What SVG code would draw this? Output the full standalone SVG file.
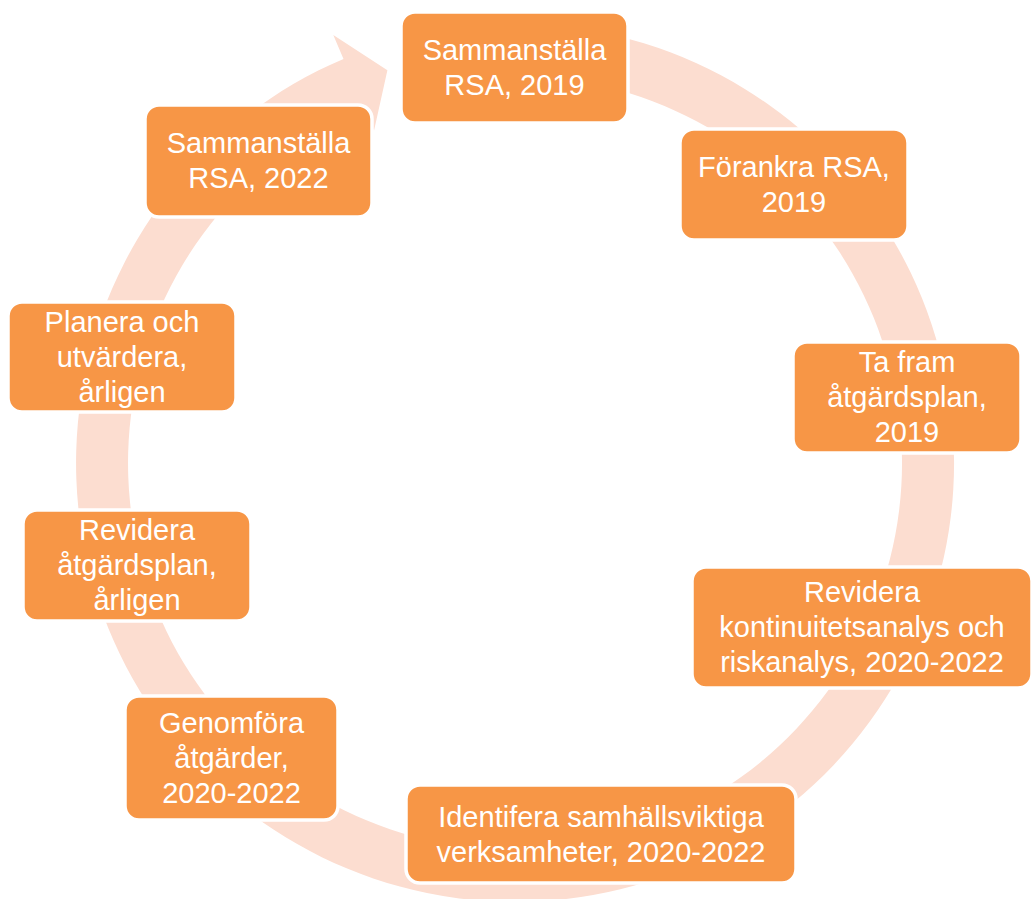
<svg xmlns="http://www.w3.org/2000/svg" width="1031" height="899" viewBox="0 0 1031 899">
<style>
.box{fill:#F79646;stroke:#FFFFFF;stroke-width:3.5}
.t{font-family:"Liberation Sans",Arial,sans-serif;font-size:29px;fill:#FFFFFF;text-anchor:middle}
.ring{fill:#FCDDD0;stroke:none}
</style>
<rect width="1031" height="899" fill="#FFFFFF"/>
<g id="connectors">
<path class="ring" d="M423.7,33.6 A439,439 0 1 1 343.5,58.9 L333.3,35.0 L387.4,70.2 L374.0,130.7 L363.8,106.8 A387,387 0 1 0 434.5,84.5 Z"/>
</g>
<g id="node1">
<rect class="box" x="401" y="12" width="227" height="111" rx="14"/>
<text class="t" x="514.5" y="60">Sammanställa</text>
<text class="t" x="514.5" y="95">RSA, 2019</text>
</g>
<g id="node2">
<rect class="box" x="680" y="129" width="228" height="111" rx="14"/>
<text class="t" x="794" y="177">Förankra RSA,</text>
<text class="t" x="794" y="212">2019</text>
</g>
<g id="node3">
<rect class="box" x="793" y="342" width="228" height="111" rx="14"/>
<text class="t" x="907" y="372">Ta fram</text>
<text class="t" x="907" y="407">åtgärdsplan,</text>
<text class="t" x="907" y="442">2019</text>
</g>
<g id="node4">
<rect class="box" x="692" y="567" width="340" height="121" rx="14"/>
<text class="t" x="862" y="602">Revidera</text>
<text class="t" x="862" y="637">kontinuitetsanalys och</text>
<text class="t" x="862" y="672">riskanalys, 2020-2022</text>
</g>
<g id="node5">
<rect class="box" x="406" y="785" width="390" height="98" rx="14"/>
<text class="t" x="601" y="827">Identifera samhällsviktiga</text>
<text class="t" x="601" y="862">verksamheter, 2020-2022</text>
</g>
<g id="node6">
<rect class="box" x="125" y="696" width="213" height="124" rx="14"/>
<text class="t" x="231.5" y="733">Genomföra</text>
<text class="t" x="231.5" y="768">åtgärder,</text>
<text class="t" x="231.5" y="803">2020-2022</text>
</g>
<g id="node7">
<rect class="box" x="23" y="510" width="228" height="111" rx="14"/>
<text class="t" x="137" y="540">Revidera</text>
<text class="t" x="137" y="575">åtgärdsplan,</text>
<text class="t" x="137" y="610">årligen</text>
</g>
<g id="node8">
<rect class="box" x="8" y="302" width="228" height="110" rx="14"/>
<text class="t" x="122" y="332">Planera och</text>
<text class="t" x="122" y="367">utvärdera,</text>
<text class="t" x="122" y="402">årligen</text>
</g>
<g id="node9">
<rect class="box" x="145" y="105" width="227" height="112" rx="14"/>
<text class="t" x="258.5" y="153">Sammanställa</text>
<text class="t" x="258.5" y="188">RSA, 2022</text>
</g>
</svg>
